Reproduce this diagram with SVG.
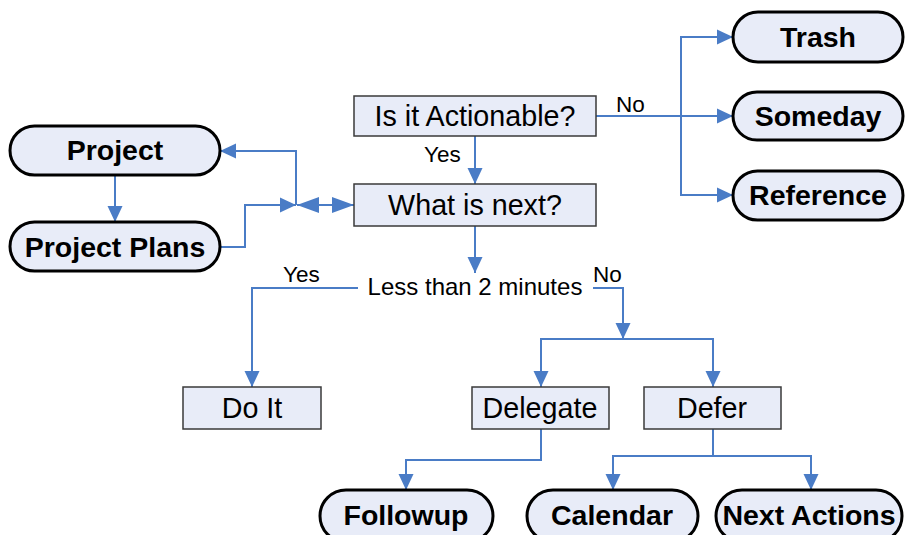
<svg xmlns="http://www.w3.org/2000/svg" width="905" height="535" viewBox="0 0 905 535">
<defs>
<style>
.box{fill:#E8ECF8;stroke:#3a3a3a;stroke-width:1.5}
.pill{fill:#E8ECF8;stroke:#000;stroke-width:3}
.bt{font-family:"Liberation Sans",Arial,sans-serif;font-size:28.7px;fill:#000;text-anchor:middle}
.pt{font-family:"Liberation Sans",Arial,sans-serif;font-size:28.5px;font-weight:bold;fill:#000;text-anchor:middle}
.lb{font-family:"Liberation Sans",Arial,sans-serif;font-size:22.5px;fill:#000}
.cn{fill:none;stroke:#4A7CC6;stroke-width:2}
</style>
<marker id="ah" markerUnits="userSpaceOnUse" markerWidth="16" markerHeight="16" viewBox="0 0 16 16" refX="16" refY="8" orient="auto-start-reverse">
<path d="M0,0.5 L16,8 L0,15.5 Z" fill="#4A7CC6"/>
</marker>
<marker id="ah2" markerUnits="userSpaceOnUse" markerWidth="22" markerHeight="16" viewBox="0 0 22 16" refX="22" refY="8" orient="auto-start-reverse">
<path d="M0,0 L22,8 L0,16 Z" fill="#4A7CC6"/>
</marker>
</defs>
<rect width="905" height="535" fill="#fff"/>
<g id="connectors">
<path class="cn" d="M596,116 H733" marker-end="url(#ah)"/>
<path class="cn" d="M681,116 V37 H733" marker-end="url(#ah)"/>
<path class="cn" d="M681,116 V195 H733" marker-end="url(#ah)"/>
<path class="cn" d="M475,136 V184" marker-end="url(#ah)"/>
<path class="cn" d="M475,226 V273" marker-end="url(#ah)"/>
<path class="cn" d="M358,288 H252 V387" marker-end="url(#ah)"/>
<path class="cn" d="M593,288 H623 V339" marker-end="url(#ah)"/>
<path class="cn" d="M623,339 H541 V387" marker-end="url(#ah)"/>
<path class="cn" d="M623,339 H713 V387" marker-end="url(#ah)"/>
<path class="cn" d="M541,429 V460 H406 V490" marker-end="url(#ah)"/>
<path class="cn" d="M713,429 V456 H613 V490" marker-end="url(#ah)"/>
<path class="cn" d="M713,456 H811 V490" marker-end="url(#ah)"/>
<path class="cn" d="M115,175 V222" marker-end="url(#ah)"/>
<path class="cn" d="M220,247 H245 V205 H296" marker-end="url(#ah)"/>
<path class="cn" d="M296,205 V151 H220" marker-end="url(#ah)"/>
<path class="cn" d="M297,205 H354" marker-start="url(#ah2)" marker-end="url(#ah2)"/>
<text class="lb" x="616" y="112">No</text>
<text class="lb" x="424" y="162">Yes</text>
<text class="lb" x="283" y="282">Yes</text>
<text class="lb" x="593" y="282">No</text>
<text class="lb" x="475" y="295" text-anchor="middle" style="font-size:24px">Less than 2 minutes</text>
</g>
<g id="actionable"><rect class="box" x="354" y="96" width="242" height="40"/><text class="bt" x="475" y="126">Is it Actionable?</text></g>
<g id="whatnext"><rect class="box" x="354" y="184" width="242" height="42"/><text class="bt" x="475" y="215">What is next?</text></g>
<g id="trash"><rect class="pill" x="733" y="12" width="170" height="50" rx="25"/><text class="pt" x="818" y="47">Trash</text></g>
<g id="someday"><rect class="pill" x="733" y="92" width="170" height="48" rx="24"/><text class="pt" x="818" y="126">Someday</text></g>
<g id="reference"><rect class="pill" x="733" y="171" width="170" height="49" rx="24.5"/><text class="pt" x="818" y="205">Reference</text></g>
<g id="project"><rect class="pill" x="10" y="126" width="210" height="49" rx="24.5"/><text class="pt" x="115" y="160">Project</text></g>
<g id="projectplans"><rect class="pill" x="10" y="222" width="210" height="49" rx="24.5"/><text class="pt" x="115" y="257">Project Plans</text></g>
<g id="doit"><rect class="box" x="183" y="387" width="138" height="42"/><text class="bt" x="252" y="418">Do It</text></g>
<g id="delegate"><rect class="box" x="472" y="387" width="137" height="42"/><text class="bt" x="540" y="418">Delegate</text></g>
<g id="defer"><rect class="box" x="644" y="387" width="137" height="42"/><text class="bt" x="712" y="418">Defer</text></g>
<g id="followup"><rect class="pill" x="320" y="490" width="173" height="52" rx="26"/><text class="pt" x="406" y="525">Followup</text></g>
<g id="calendar"><rect class="pill" x="527" y="490" width="171" height="52" rx="26"/><text class="pt" x="612" y="525">Calendar</text></g>
<g id="nextactions"><rect class="pill" x="716" y="490" width="186" height="52" rx="26"/><text class="pt" x="809" y="525">Next Actions</text></g>
</svg>
